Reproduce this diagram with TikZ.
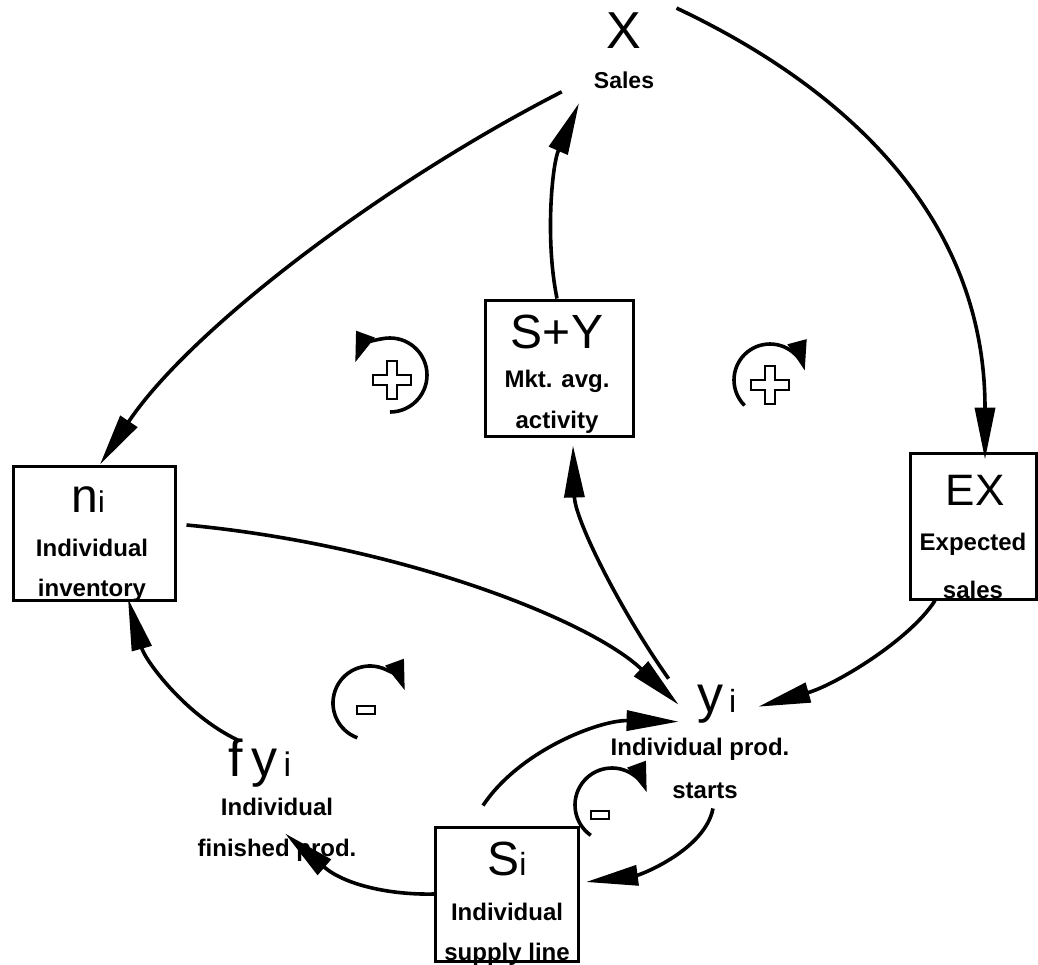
\documentclass[tikz,border=0pt]{standalone}
\usepackage{fontspec}
\setmainfont{Liberation Sans}
\usetikzlibrary{arrows.meta}
\begin{document}
\begin{tikzpicture}[x=1pt,y=-1pt,
  box/.style={draw,line width=3pt,inner sep=0pt},
  conn/.style={line width=3.6pt,-{Triangle[length=52pt,width=20pt]}},
  loopar/.style={line width=3.6pt,-{Triangle[length=30pt,width=19pt]}},
  sym/.style={line width=2.2pt},
  lbl/.style={inner sep=0pt,anchor=base,font=\fontsize{24}{24}\selectfont\bfseries},
  big/.style={inner sep=0pt,anchor=base,font=\fontsize{#1}{#1}\selectfont},
  big/.default=48]
\useasboundingbox (0,0) rectangle (1038,964);
% boxes
\node[box,minimum width=148pt,minimum height=136pt] (SY) at (559,368) {};
\node[box,minimum width=162pt,minimum height=134pt] (ni) at (94,533) {};
\node[box,minimum width=126pt,minimum height=146pt] (EX) at (973,526) {};
\node[box,minimum width=143pt,minimum height=134pt] (Si) at (507,894) {};
% texts
\node[big=52] (X) at (624,48) {X};
\node[lbl,font=\fontsize{23}{23}\selectfont\bfseries] (sales) at (624,88) {Sales};
\node[big=48] (SYt) at (557,348) {S+Y};
\node[lbl] (SYa) at (557,387) {Mkt. avg.};
\node[lbl] (SYb) at (557,428) {activity};
\node[big=48] (nit) at (88,512) {n{\fontsize{30}{30}\selectfont i}};
\node[lbl] (nia) at (92,556) {Individual};
\node[lbl] (nib) at (92,596) {inventory};
\node[big=44] (EXt) at (975,505) {EX};
\node[lbl] (EXa) at (973,550) {Expected};
\node[lbl] (EXb) at (973,598) {sales};
\node[big=52] (yi) at (717,712) {y{\fontsize{32}{32}\selectfont\,i}};
\node[lbl] (yia) at (700,755) {Individual prod.};
\node[lbl] (yib) at (705,798) {starts};
\node[big=52] (fyi) at (260,776) {f\,y{\fontsize{34}{34}\selectfont\,i}};
\node[lbl] (fyia) at (277,815) {Individual};
\node[lbl] (fyib) at (277,856) {finished prod.};
\node[big=48] (Sit) at (507,875) {S{\fontsize{32}{32}\selectfont i}};
\node[lbl] (Sia) at (507,920) {Individual};
\node[lbl] (Sib) at (507,960) {supply line};
% connectors
\draw[conn] ([shift={(-32,12)}]sales.west) .. controls (380,185) and (190,330) .. ([xshift=6]ni.north);
\draw[conn] ([shift={(35,-22)}]X.east) .. controls (850,90) and (985,220) .. ([xshift=12,yshift=-8]EX.north);
\draw[conn] ([xshift=-2]SY.north) .. controls (545,240) and (552,165) .. ([shift={(-45,32)}]sales.north);
\draw[conn] ([shift={(10,-8)}]ni.east) .. controls (400,545) and (590,620) .. ([shift={(-19,1)}]yi.west);
\draw[conn] ([xshift=-38]EX.south) .. controls (910,640) and (835,685) .. ([shift={(22,3)}]yi.east);
\draw[conn] ([shift={(-29,-25)}]yi.west) .. controls (620,610) and (575,520) .. ([shift={(14,8)}]SY.south);
\draw[conn] ([shift={(-24,-20)}]Si.north) .. controls (520,750) and (600,720) .. ([shift={(-19,18)}]yi.west);
\draw[conn] ([shift={(8,10)}]yib.south) .. controls (705,850) and (640,875) .. ([shift={(6,-12)}]Si.east);
\draw[conn] (Si.west) .. controls (390,895) and (345,885) .. ([shift={(8,-5)}]fyib.north);
\draw[conn] ([shift={(-22,2)}]fyi.north) .. controls (185,715) and (145,660) .. ([xshift=34,yshift=3]ni.south);
% loop symbols
\coordinate (L1) at (390,375);
\draw[loopar] ([shift={(90:37)}]L1) arc[start angle=90,end angle=-160,radius=37];
\draw[sym] (387,361) -- (397,361) -- (397,375) -- (411,375) -- (411,385) -- (397,385) -- (397,399) -- (387,399) -- (387,385) -- (373,385) -- (373,375) -- (387,375) -- cycle;
\coordinate (L2) at (770,380);
\draw[loopar] ([shift={(135:36)}]L2) arc[start angle=135,end angle=345,radius=36];
\draw[sym] (765,366) -- (775,366) -- (775,380) -- (789,380) -- (789,390) -- (775,390) -- (775,404) -- (765,404) -- (765,390) -- (751,390) -- (751,380) -- (765,380) -- cycle;
\coordinate (L3) at (370,703);
\draw[loopar] ([shift={(110:37)}]L3) arc[start angle=110,end angle=340,radius=37];
\draw[sym] (357,706) rectangle (375,714);
\coordinate (L4) at (612,805);
\draw[loopar] ([shift={(125:37)}]L4) arc[start angle=125,end angle=340,radius=37];
\draw[sym] (591,811) rectangle (609,819);
\end{tikzpicture}
\end{document}
